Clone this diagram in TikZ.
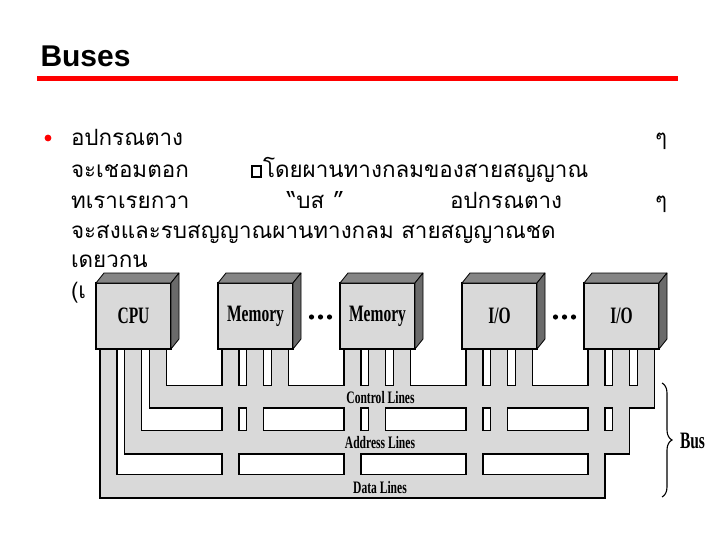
\documentclass[tikz,border=0pt]{standalone}
\usepackage{fontspec}
\setmainfont{Liberation Sans}
\newfontfamily\thaifont[Script=Thai]{Loma}
\newfontfamily\labfont[FakeStretch=0.66]{Liberation Serif}
\usetikzlibrary{positioning, backgrounds, decorations.pathreplacing}
\definecolor{busgray}{HTML}{D9D9D9}
\definecolor{topgray}{HTML}{858585}
\definecolor{sidegray}{HTML}{6A6A6A}
\definecolor{titlered}{HTML}{FF0000}

\begin{document}
\begin{tikzpicture}[x=1pt, y=-1pt,
    every node/.style={inner sep=0pt, outer sep=0pt},
    title/.style={font=\bfseries\fontsize{30}{32}\selectfont, anchor=base west},
    thaitext/.style={font=\thaifont\fontsize{22.4}{26}\selectfont, anchor=base west},
    device/.style={draw=black, line width=1.3pt, fill=busgray, minimum width=75pt, minimum height=66pt, font=\labfont\bfseries\fontsize{23.5}{25}\selectfont},
    buslab/.style={font=\labfont\bfseries\fontsize{17.5}{19}\selectfont, anchor=base},
    busedge/.style={draw=black, line width=3pt},
    busfill/.style={fill=busgray},
    face/.style={draw=black, line width=0.8pt, line join=round}
]
\useasboundingbox (0,0) rectangle (720,540);

% Title and rule
\node[title] (title) at (40.5,66.5) {Buses};
\fill[titlered] (37,76) rectangle (678,81.5);

% Bullet text
\fill[titlered] (48,138) circle (3.4);
\node[thaitext] (line1) at (71,146) {อปกรณตาง};
\node[thaitext] (rep1)  at (655,146) {ๆ};
\node[thaitext] (line2) at (71,178) {จะเชอมตอก};
\node[thaitext] (line2b) at (251,178) {\raisebox{2pt}{\fboxrule=2pt\fboxsep=0pt\fbox{\rule{0pt}{9pt}\hspace{7pt}}}\hspace{1pt}โดยผานทางกลมของสายสญญาณ};
\node[thaitext] (line3) at (71,208) {ทเราเรยกวา};
\node[thaitext] (line3b) at (287,208) {“บส\hspace{9pt}”};
\node[thaitext] (line3c) at (450,208) {อปกรณตาง};
\node[thaitext] (rep2)  at (655,208) {ๆ};
\node[thaitext] (line4) at (71,238) {จะสงและรบสญญาณผานทางกลม สายสญญาณชด};
\node[thaitext] (line5) at (71,267) {เดยวกน};
\node[thaitext] (line6) at (71,298) {(เ};

% Modules
\node[device] (cpu)  at (133.5,316) {CPU};
\node[device] (mem1) at (255.5,316) {Memory};
\node[device] (mem2) at (377.5,316) {Memory};
\node[device] (io1)  at (499.5,316) {I/O};
\node[device] (io2)  at (621.5,316) {I/O};

\foreach \d in {cpu,mem1,mem2,io1,io2} {
    \filldraw[face, fill=topgray] (\d.north west) -- ++(8,-10) -- ++(75,0) -- (\d.north east) -- cycle;
    \filldraw[face, fill=sidegray] (\d.north east) -- ++(8,-10) -- ++(0,66) -- (\d.south east) -- cycle;
}

% Dots between modules
\foreach \c in {320.5,564.5}
    \foreach \k in {-9,0,9}
        \fill (\c+\k,317) circle (2.6);

% Bus lines: data, address, control
\begin{scope}[on background layer]
\foreach \sty in {busedge,busfill}
    \foreach \o/\t/\b in {4.5/475/497, 29/431/453, 54/386/407} {
        \path[\sty] (96+\o,\t) rectangle (599.5+\o,\b);
        \foreach \xl in {96,218,340,462,584}
            \path[\sty] (\xl+\o,349) rectangle (\xl+\o+15.5,\b);
    }
\end{scope}

\node[buslab] (ctrl) at (380.5,403.5) {Control Lines};
\node[buslab] (addr) at (380,448.5) {Address Lines};
\node[buslab] (data) at (380,493.5) {Data Lines};

% Bus brace
\coordinate (bt) at (662,383);
\coordinate (bb) at (662,497);
\draw[line width=1.1pt, decoration={brace, amplitude=10pt}, decorate] (bt) -- (bb);
\node[font=\labfont\bfseries\fontsize{23.5}{25}\selectfont, anchor=base west] (bus) at (680,448) {Bus};
\end{tikzpicture}
\end{document}
